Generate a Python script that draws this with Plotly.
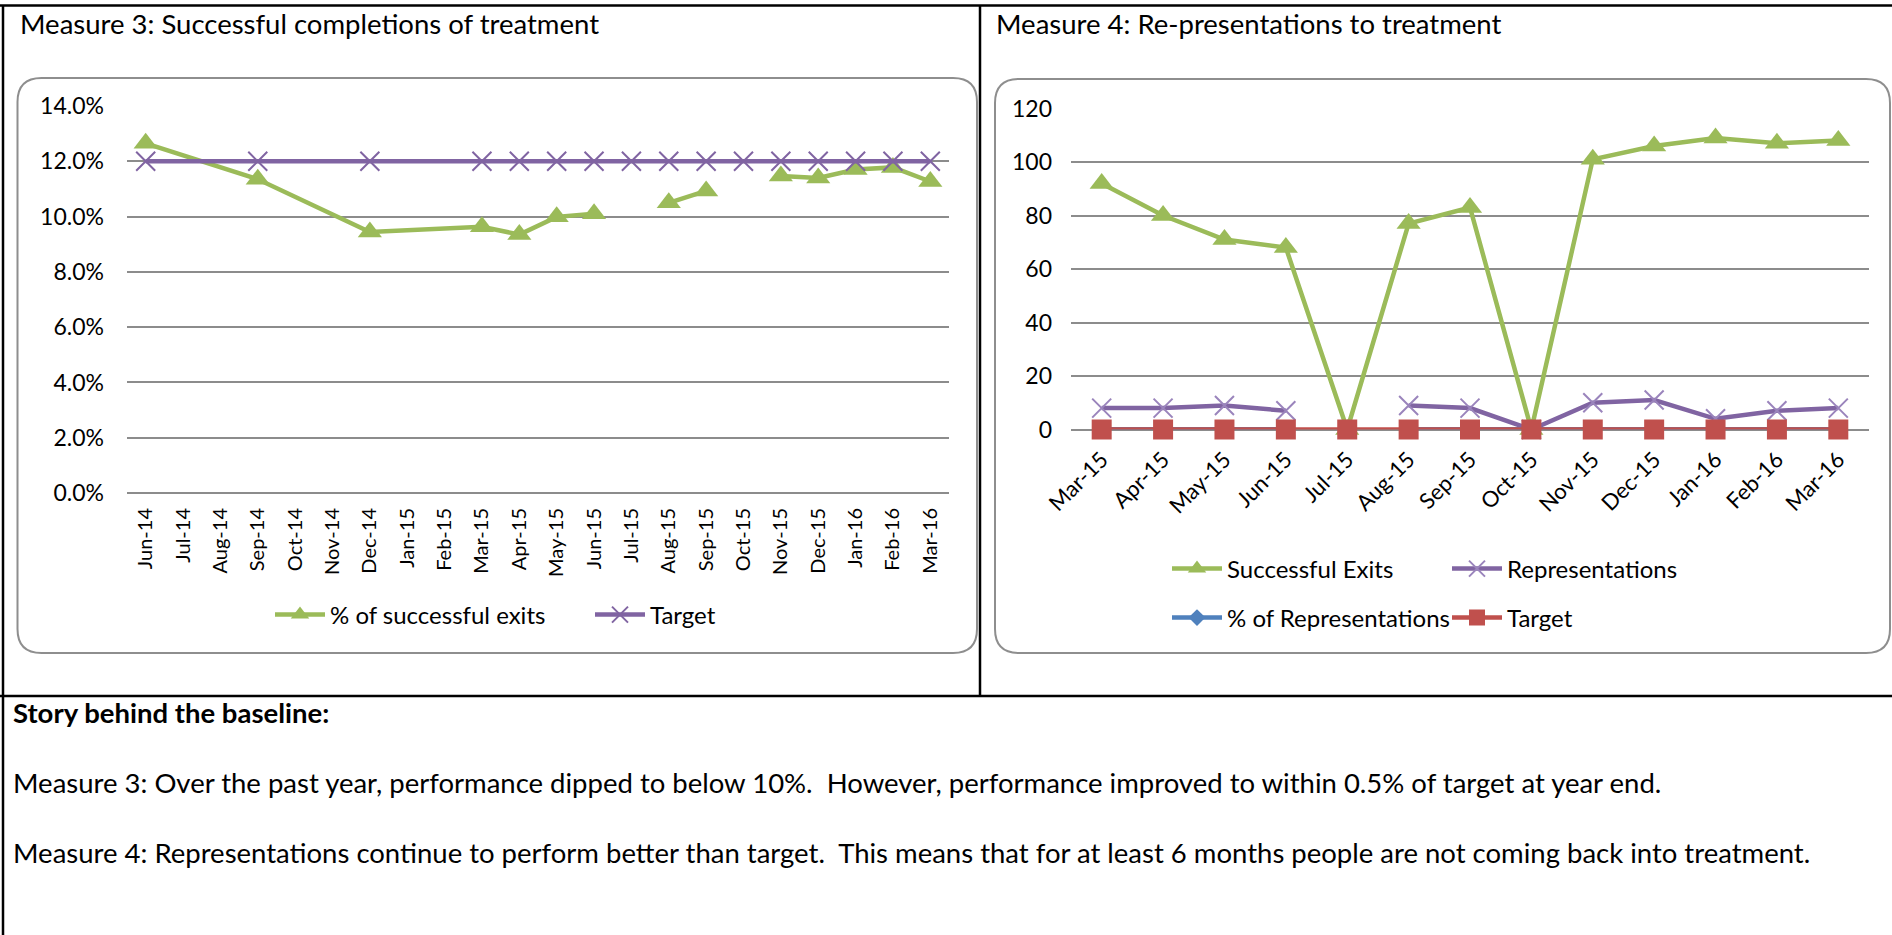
import plotly.graph_objects as go

# ---------------- data ----------------
months_left = ["Jun-14", "Jul-14", "Aug-14", "Sep-14", "Oct-14", "Nov-14", "Dec-14",
               "Jan-15", "Feb-15", "Mar-15", "Apr-15", "May-15", "Jun-15", "Jul-15",
               "Aug-15", "Sep-15", "Oct-15", "Nov-15", "Dec-15", "Jan-16", "Feb-16", "Mar-16"]
reported_left = ["Jun-14", "Sep-14", "Dec-14", "Mar-15", "Apr-15", "May-15", "Jun-15", "Jul-15",
                 "Aug-15", "Sep-15", "Oct-15", "Nov-15", "Dec-15", "Jan-16", "Feb-16", "Mar-16"]
pct_successful_exits = [0.1265, 0.1135, 0.0944, 0.0963, 0.0935, 0.0999, 0.1010, None,
                        0.1050, 0.1093, None, 0.1147, 0.1140, 0.1170, 0.1178, 0.1127]
target_left = [0.12, 0.12, 0.12, 0.12, 0.12, 0.12, 0.12, 0.12,
               0.12, 0.12, 0.12, 0.12, 0.12, 0.12, 0.12, 0.12]
left_ticks = [0.0, 0.02, 0.04, 0.06, 0.08, 0.10, 0.12, 0.14]

months_right = ["Mar-15", "Apr-15", "May-15", "Jun-15", "Jul-15", "Aug-15", "Sep-15",
                "Oct-15", "Nov-15", "Dec-15", "Jan-16", "Feb-16", "Mar-16"]
successful_exits = [92, 80, 71, 68, 0, 77, 83, 0, 101, 106, 109, 107, 108]
representations = [8, 8, 9, 7, None, 9, 8, 0, 10, 11, 4, 7, 8]
pct_representations = [0.09, 0.1, 0.13, 0.1, None, 0.12, 0.1, 0, 0.1, 0.1, 0.04, 0.07, 0.07]
target_right = [0, 0, 0, 0, 0, 0, 0, 0, 0, 0, 0, 0, 0]
right_ticks = [0, 20, 40, 60, 80, 100, 120]

title_left = "Measure 3: Successful completions of treatment"
title_right = "Measure 4: Re-presentations to treatment"
story_heading = "Story behind the baseline:"
story_m3 = ("Measure 3: Over the past year, performance dipped to below 10%.  However, "
            "performance improved to within 0.5% of target at year end.")
story_m4 = ("Measure 4: Representations continue to perform better than target.  This means "
            "that for at least 6 months people are not coming back into treatment.")

# ---------------- style ----------------
W, H = 1892, 935
FONT = "Lato"
FS_TEXT = 27.5
FS_YTICK = 23
FS_XTICK_L = 20
FS_XTICK_R = 22
FS_LEG = 24
GREEN = "#9BBB59"
PURPLE = "#8064A2"
LAVENDER = "#9A84BC"
RED = "#C0504D"
BLUE = "#4F81BD"
GRID = "#8C8C8C"
LW = 4.5


def px(x):
    return x / W


def py(y):
    return 1 - y / H


fig = go.Figure()

# left chart
fig.add_trace(go.Scatter(
    x=reported_left, y=pct_successful_exits, name="% of successful exits",
    mode="lines+markers", line=dict(color=GREEN, width=LW),
    marker=dict(symbol="triangle-up", size=21, color=GREEN),
    xaxis="x", yaxis="y", legend="legend", connectgaps=False, cliponaxis=False))
fig.add_trace(go.Scatter(
    x=reported_left, y=target_left, name="Target",
    mode="lines+markers", line=dict(color=PURPLE, width=LW),
    marker=dict(symbol="x-thin", size=19, line=dict(color=PURPLE, width=2)),
    xaxis="x", yaxis="y", legend="legend", cliponaxis=False))

# right chart
fig.add_trace(go.Scatter(
    x=months_right, y=successful_exits, name="Successful Exits",
    mode="lines+markers", line=dict(color=GREEN, width=LW),
    marker=dict(symbol="triangle-up", size=21, color=GREEN),
    xaxis="x2", yaxis="y2", legend="legend2", cliponaxis=False))
fig.add_trace(go.Scatter(
    x=months_right, y=representations, name="Representations",
    mode="lines+markers", line=dict(color=PURPLE, width=LW),
    marker=dict(symbol="x-thin", size=19, line=dict(color=LAVENDER, width=2)),
    xaxis="x2", yaxis="y2", legend="legend2", connectgaps=False, cliponaxis=False))
fig.add_trace(go.Scatter(
    x=months_right, y=pct_representations, name="% of Representations",
    mode="lines+markers", line=dict(color=BLUE, width=LW),
    marker=dict(symbol="diamond", size=13, color=BLUE),
    xaxis="x2", yaxis="y2", legend="legend3", connectgaps=False, cliponaxis=False))
fig.add_trace(go.Scatter(
    x=months_right, y=target_right, name="Target",
    mode="lines+markers", line=dict(color=RED, width=LW),
    marker=dict(symbol="square", size=20, color=RED),
    xaxis="x2", yaxis="y2", legend="legend3", cliponaxis=False))

ytick_font = dict(family=FONT, size=FS_YTICK, color="#000000")

fig.update_layout(
    template="none",
    width=W, height=H,
    margin=dict(l=0, r=0, t=0, b=0, autoexpand=False),
    paper_bgcolor="white", plot_bgcolor="white",
    font=dict(family=FONT, size=FS_TEXT, color="#000000"),
    xaxis=dict(domain=[px(127), px(949)], anchor="y", type="category",
               categoryorder="array", categoryarray=months_left,
               tickvals=months_left, range=[-0.5, len(months_left) - 0.5],
               tickangle=-90, tickfont=dict(family=FONT, size=FS_XTICK_L, color="#000000"),
               showgrid=False, zeroline=False, automargin=False,
               showline=False, ticks="", ticklabelstandoff=10),
    yaxis=dict(domain=[py(493), py(106)], anchor="x", range=[0, 0.14001],
               tickvals=left_ticks, tickformat=".1%", tickfont=ytick_font,
               showgrid=True, gridcolor=GRID, gridwidth=1.5, automargin=False,
               zeroline=True, zerolinecolor=GRID, zerolinewidth=1.5,
               showline=False, ticks="", ticklabelstandoff=22),
    xaxis2=dict(domain=[px(1071), px(1869)], anchor="y2", type="category",
                categoryorder="array", categoryarray=months_right,
                range=[-0.5, len(months_right) - 0.5],
                tickangle=-45, tickfont=dict(family=FONT, size=FS_XTICK_R, color="#000000"),
                showgrid=False, zeroline=False, automargin=False,
                showline=False, ticks="", ticklabelstandoff=12),
    yaxis2=dict(domain=[py(429.5), py(108.5)], anchor="x2", range=[0, 120.01],
                tickvals=right_ticks, tickfont=ytick_font,
                showgrid=True, gridcolor=GRID, gridwidth=1.5, automargin=False,
                zeroline=True, zerolinecolor=GRID, zerolinewidth=1.5,
                showline=False, ticks="", ticklabelstandoff=18),
    legend=dict(orientation="h", x=px(270), y=py(615), xanchor="left", yanchor="middle",
                font=dict(family=FONT, size=FS_LEG), entrywidth=255, entrywidthmode="pixels",
                bgcolor="rgba(0,0,0,0)", itemwidth=50),
    legend2=dict(orientation="h", x=px(1167), y=py(569), xanchor="left", yanchor="middle",
                 font=dict(family=FONT, size=FS_LEG), entrywidth=215, entrywidthmode="pixels",
                 bgcolor="rgba(0,0,0,0)", itemwidth=50),
    legend3=dict(orientation="h", x=px(1167), y=py(618), xanchor="left", yanchor="middle",
                 font=dict(family=FONT, size=FS_LEG), entrywidth=215, entrywidthmode="pixels",
                 bgcolor="rgba(0,0,0,0)", itemwidth=50),
    showlegend=True,
)


def rounded_rect(x0, y0, x1, y1, r):
    rx, ry = r / W, r / H
    X0, X1 = px(x0), px(x1)
    Y0, Y1 = py(y0), py(y1)  # Y0 top, Y1 bottom (paper)
    return (f"M {X0 + rx} {Y0} L {X1 - rx} {Y0} Q {X1} {Y0} {X1} {Y0 - ry} "
            f"L {X1} {Y1 + ry} Q {X1} {Y1} {X1 - rx} {Y1} "
            f"L {X0 + rx} {Y1} Q {X0} {Y1} {X0} {Y1 + ry} "
            f"L {X0} {Y0 - ry} Q {X0} {Y0} {X0 + rx} {Y0} Z")


shapes = [
    dict(type="path", path=rounded_rect(17.5, 78, 977, 653, 24), xref="paper", yref="paper",
         line=dict(color="#8E8E8E", width=2), layer="below"),
    dict(type="path", path=rounded_rect(995, 79, 1890, 653, 24), xref="paper", yref="paper",
         line=dict(color="#8E8E8E", width=2), layer="below"),
    # table borders
    dict(type="line", xref="paper", yref="paper", x0=0, x1=1, y0=py(5.5), y1=py(5.5),
         line=dict(color="black", width=2.5)),
    dict(type="line", xref="paper", yref="paper", x0=px(3), x1=px(3), y0=py(5.5), y1=0,
         line=dict(color="black", width=2.5)),
    dict(type="line", xref="paper", yref="paper", x0=px(980), x1=px(980), y0=py(5.5), y1=py(696),
         line=dict(color="black", width=2.5)),
    dict(type="line", xref="paper", yref="paper", x0=0, x1=1, y0=py(696), y1=py(696),
         line=dict(color="black", width=2.5)),
]

annotations = [
    dict(text=title_left, x=px(18), y=py(24), xanchor="left", yanchor="middle",
         showarrow=False, font=dict(family=FONT, size=FS_TEXT)),
    dict(text=title_right, x=px(994), y=py(24), xanchor="left", yanchor="middle",
         showarrow=False, font=dict(family=FONT, size=FS_TEXT)),
    dict(text="<b>" + story_heading + "</b>", x=px(11), y=py(712), xanchor="left",
         yanchor="middle", showarrow=False, font=dict(family=FONT, size=FS_TEXT)),
    dict(text=story_m3, x=px(11), y=py(782), xanchor="left", yanchor="middle",
         showarrow=False, font=dict(family=FONT, size=FS_TEXT)),
    dict(text=story_m4, x=px(11), y=py(852), xanchor="left", yanchor="middle",
         showarrow=False, font=dict(family=FONT, size=FS_TEXT)),
]
for a in annotations:
    a["xref"] = "paper"
    a["yref"] = "paper"

fig.update_layout(shapes=shapes, annotations=annotations)

fig.write_html("out.html", config={"displayModeBar": False},
               post_script="document.body.style.margin='0';document.body.style.overflow='hidden';")
